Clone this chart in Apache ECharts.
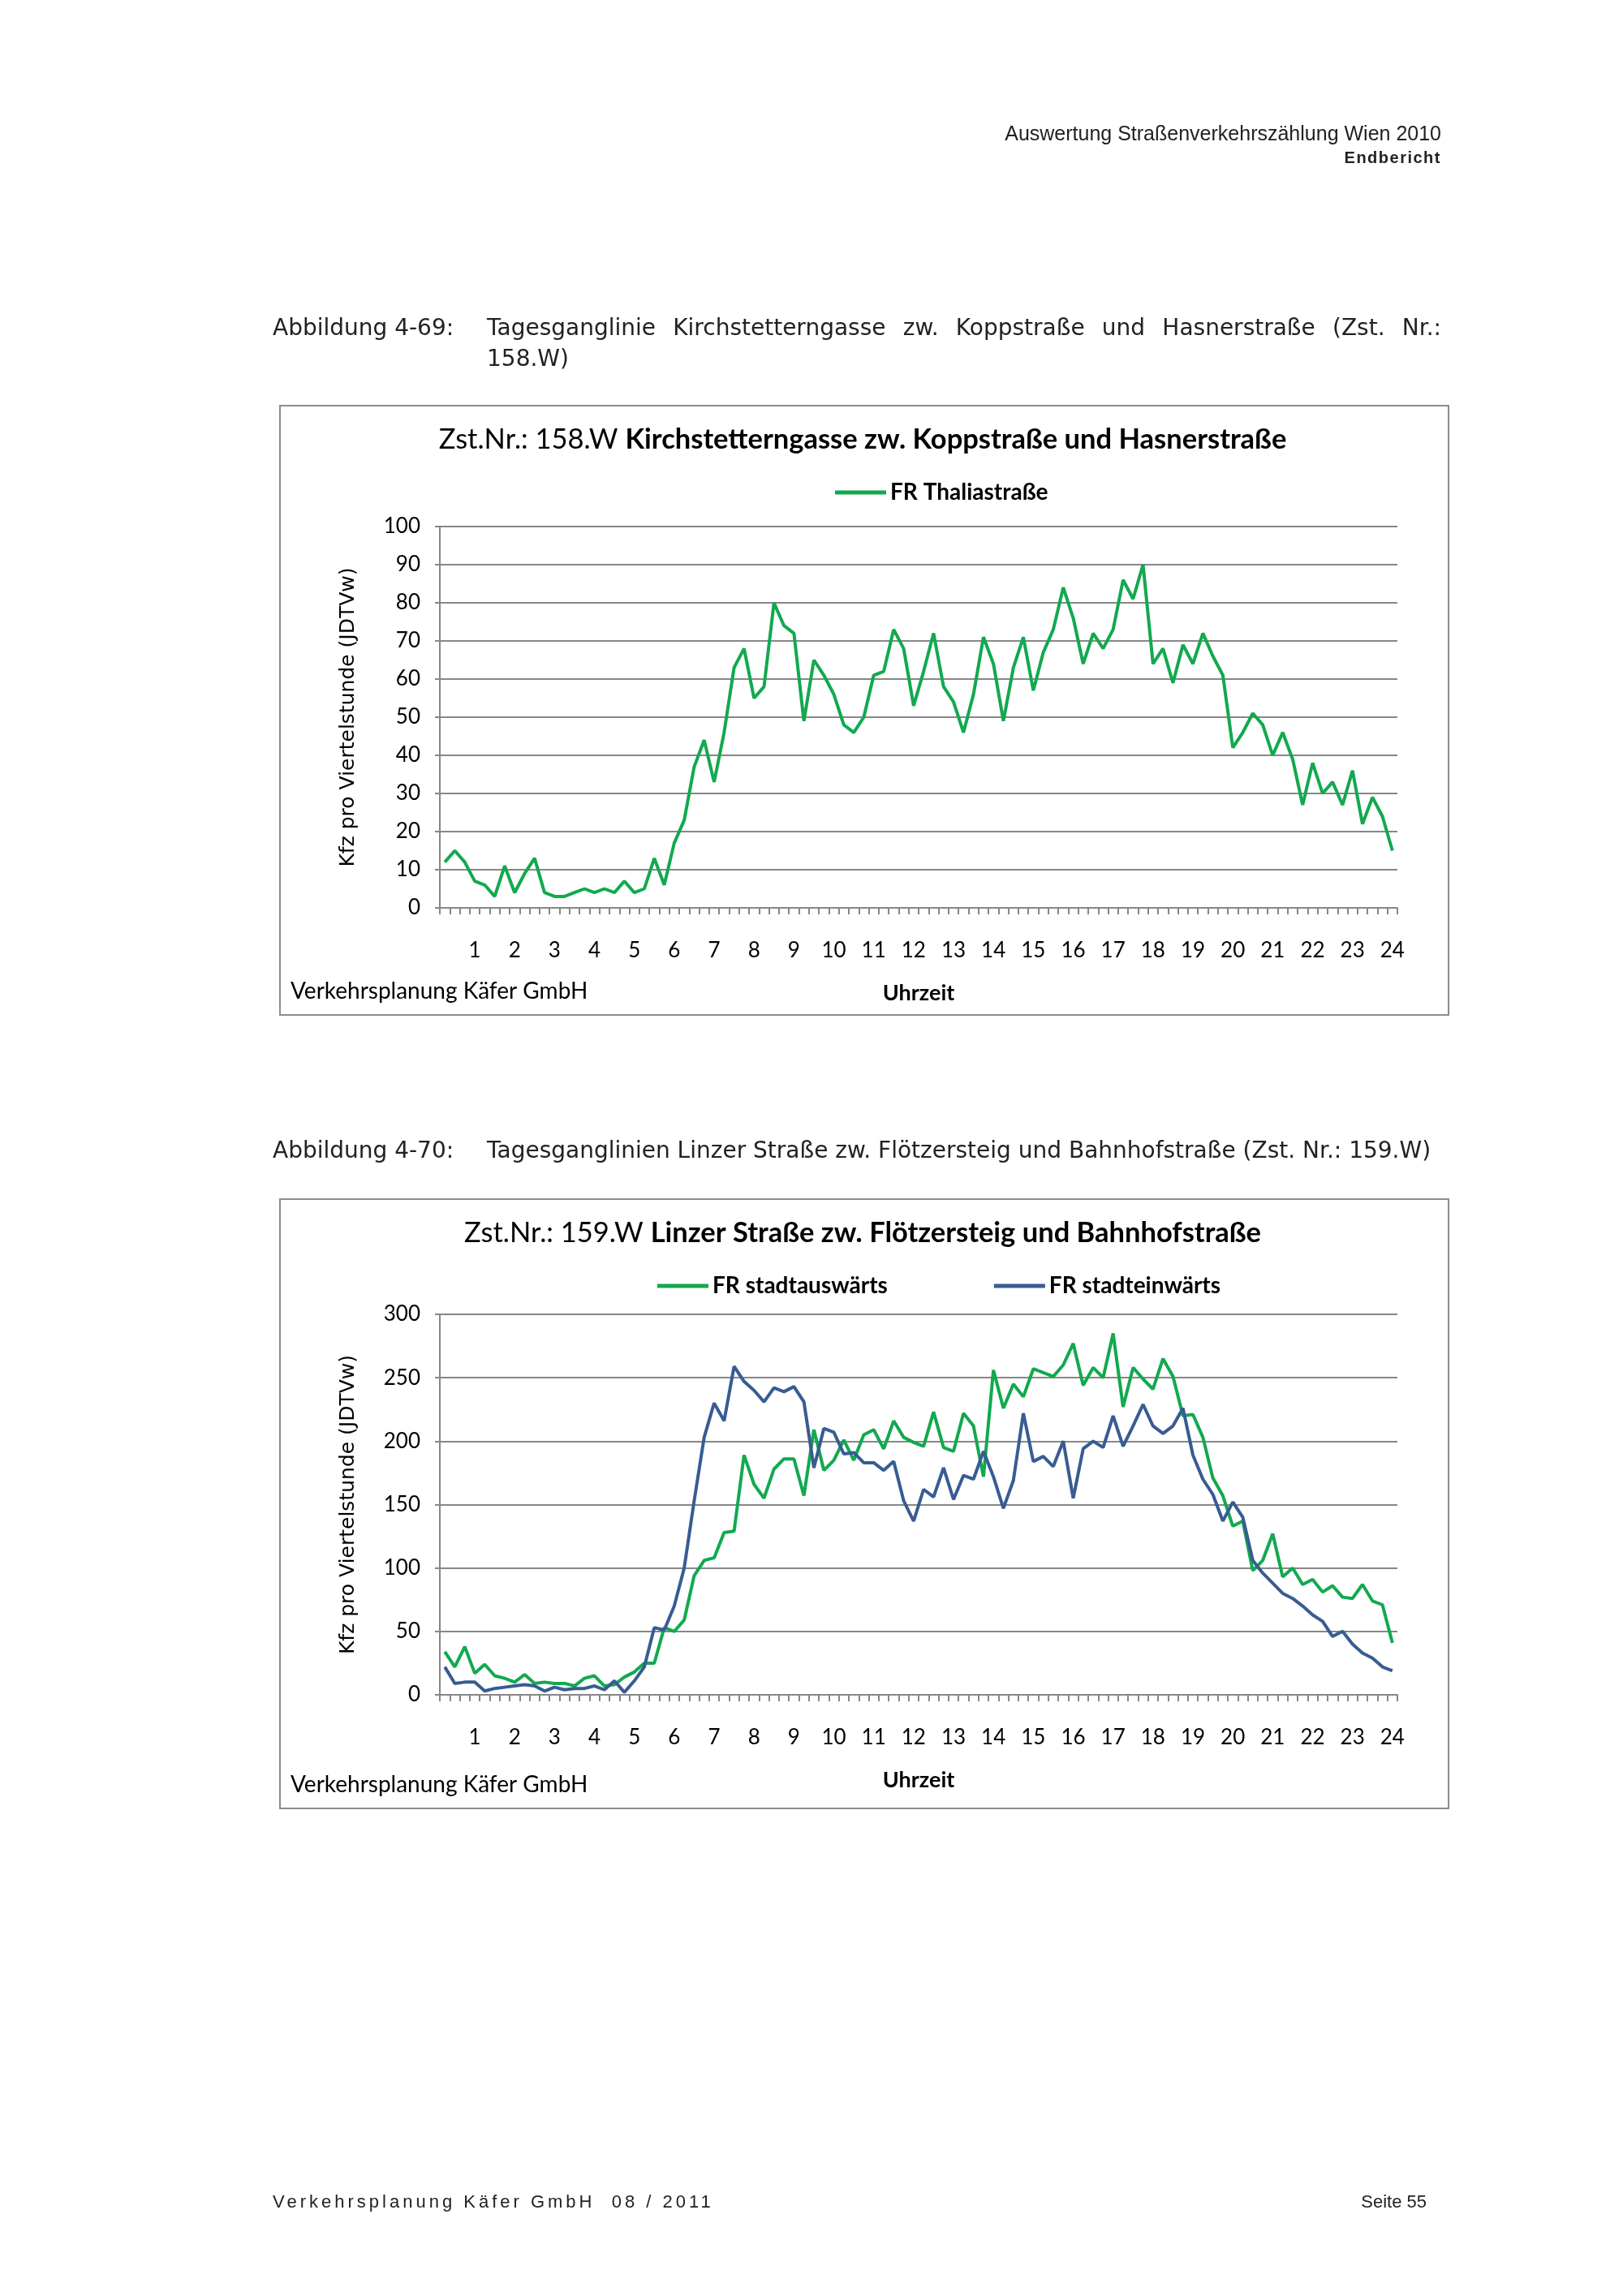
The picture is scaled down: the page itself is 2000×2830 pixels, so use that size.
<!DOCTYPE html>
<html><head><meta charset="utf-8">
<script src="https://cdn.jsdelivr.net/npm/echarts@6/dist/echarts.min.js"></script>
<style>
html,body{margin:0;padding:0;background:#fff;}
#page{position:relative;width:2000px;height:2830px;overflow:hidden;background:#fff;}
#chart{position:absolute;left:0;top:0;width:2000px;height:2830px;}
.t{position:absolute;font-family:"Liberation Sans",Arial,sans-serif;color:#222;white-space:nowrap;}
.c{font-family:"DejaVu Sans",sans-serif;font-size:28px;line-height:38px;}
.j{white-space:normal;text-align:justify;text-align-last:justify;}
</style></head><body>
<div id="page">
<div id="chart"></div>
<div class="t" style="right:224px;top:149px;font-size:25px;line-height:30px;">Auswertung Straßenverkehrszählung Wien 2010</div>
<div class="t" style="right:224px;top:181px;font-size:20px;line-height:26px;font-weight:bold;letter-spacing:1.5px;">Endbericht</div>
<div class="t c" style="left:336px;top:385px;">Abbildung 4-69:</div>
<div class="t c j" style="left:600px;top:385px;width:1176px;">Tagesganglinie Kirchstetterngasse zw. Koppstraße und Hasnerstraße (Zst. Nr.:</div>
<div class="t c" style="left:600px;top:423px;">158.W)</div>
<div class="t c" style="left:336px;top:1399px;">Abbildung 4-70:</div>
<div class="t c" style="left:600px;top:1399px;">Tagesganglinien Linzer Straße zw. Flötzersteig und Bahnhofstraße (Zst. Nr.: 159.W)</div>
<div class="t" style="left:336px;top:2700px;font-size:22px;line-height:28px;letter-spacing:4px;">Verkehrsplanung Käfer GmbH&nbsp;&nbsp;08 / 2011</div>
<div class="t" style="right:242px;top:2700px;font-size:22px;line-height:28px;">Seite 55</div>
</div>
<script>
// ---- data ----
const hourLabels = ['1','2','3','4','5','6','7','8','9','10','11','12','13','14','15','16','17','18','19','20','21','22','23','24'];
const quarterSuffix = [':15', ':30', ':45', ':00'];
const categories = [];
for (let h = 0; h < 24; h++) {
  for (let q = 0; q < 4; q++) {
    categories.push(q < 3 ? (h + quarterSuffix[q]) : (hourLabels[h] + quarterSuffix[q]));
  }
}
const thaliastrasse = [
  12,15,12,7,6,3,11,4,9,13,4,3,3,4,5,4,5,4,7,4,5,13,6,17,23,37,44,33,46,63,68,55,
  58,80,74,72,49,65,61,56,48,46,50,61,62,73,68,53,62,72,58,54,46,56,71,64,49,63,71,57,67,73,84,76,
  64,72,68,73,86,81,90,64,68,59,69,64,72,66,61,42,46,51,48,40,46,39,27,38,30,33,27,36,22,29,24,15
];
const stadtauswaerts = [
  34,22,38,17,24,15,13,10,16,9,10,9,9,7,13,15,7,8,14,18,25,25,53,50,59,94,106,108,128,129,189,166,
  155,178,186,186,157,209,177,185,201,185,205,209,194,216,203,199,196,223,195,192,222,212,172,256,226,245,235,257,254,251,260,277,
  244,258,250,285,227,258,249,241,265,251,220,221,203,171,157,133,137,98,106,127,93,100,87,91,81,86,77,76,87,74,71,41
];
const stadteinwaerts = [
  22,9,10,10,3,5,6,7,8,7,3,6,4,5,5,7,4,11,2,11,22,53,51,70,100,153,203,230,216,259,247,240,
  231,242,239,243,231,179,210,207,190,191,183,183,177,184,153,137,162,156,179,154,173,170,192,172,147,169,222,184,188,180,200,155,
  194,200,195,220,196,212,229,212,206,212,226,189,170,158,137,152,140,106,96,88,80,76,70,63,58,46,50,40,33,29,22,19
];
// ---- styles ----
const GREEN = '#12a94f', BLUE = '#385c92', GRAY = '#878787';
const LBL = 'Lato, "Noto Sans", sans-serif';

function xAx(gi) {
  return {
    type: 'category', gridIndex: gi, data: categories, boundaryGap: true,
    name: 'Uhrzeit', nameLocation: 'middle', nameGap: 92,
    nameTextStyle: {fontFamily: LBL, fontSize: 27, fontWeight: 'bold', color: '#000'},
    axisLine: {show: true, lineStyle: {color: GRAY, width: 2}},
    axisTick: {show: true, interval: 0, length: 8, lineStyle: {color: GRAY, width: 2}},
    axisLabel: {
      interval: (i, v) => v.endsWith(':00'),
      formatter: v => v.endsWith(':00') ? v.split(':')[0] : '',
      fontFamily: LBL, fontSize: 26, color: '#000', margin: 40
    },
    splitLine: {show: false}
  };
}
function yAx(gi, max, step) {
  return {
    type: 'value', gridIndex: gi, min: 0, max: max, interval: step,
    name: 'Kfz pro Viertelstunde (JDTVw)', nameLocation: 'middle', nameGap: 100, nameRotate: 90,
    nameTextStyle: {fontFamily: '"DejaVu Sans", sans-serif', fontSize: 25, color: '#000'},
    axisLine: {show: true, lineStyle: {color: GRAY, width: 2}},
    axisTick: {show: true, length: 6, lineStyle: {color: GRAY, width: 2}},
    axisLabel: {fontFamily: LBL, fontSize: 26, color: '#000', margin: 24},
    splitLine: {show: true, lineStyle: {color: GRAY, width: 2}}
  };
}
const legendText = {fontFamily: LBL, fontSize: 28, fontWeight: 'bold', color: '#000'};
const titleRich = {n: {fontFamily: LBL, fontSize: 34.5, fill: '#000'}, b: {fontFamily: LBL, fontSize: 34.5, fontWeight: 'bold', fill: '#000'}};

const option = {
  animation: false,
  backgroundColor: 'transparent',
  grid: [
    {left: 542, top: 649, width: 1180, height: 470},
    {left: 542, top: 1620, width: 1180, height: 469}
  ],
  xAxis: [xAx(0), xAx(1)],
  yAxis: [yAx(0, 100, 10), yAx(1, 300, 50)],
  legend: [
    {data: ['FR Thaliastraße'], left: 1024, top: 588, icon: 'rect', itemWidth: 63, itemHeight: 5, textStyle: legendText},
    {data: ['FR stadtauswärts', 'FR stadteinwärts'], left: 805, top: 1566, itemGap: 131, icon: 'rect', itemWidth: 63, itemHeight: 5, textStyle: legendText}
  ],
  series: [
    {name: 'FR Thaliastraße', type: 'line', xAxisIndex: 0, yAxisIndex: 0, data: thaliastrasse,
     showSymbol: false, symbol: 'none', color: GREEN, lineStyle: {color: GREEN, width: 4}},
    {name: 'FR stadtauswärts', type: 'line', xAxisIndex: 1, yAxisIndex: 1, data: stadtauswaerts,
     showSymbol: false, symbol: 'none', color: GREEN, lineStyle: {color: GREEN, width: 4}},
    {name: 'FR stadteinwärts', type: 'line', xAxisIndex: 1, yAxisIndex: 1, data: stadteinwaerts,
     showSymbol: false, symbol: 'none', color: BLUE, lineStyle: {color: BLUE, width: 4}}
  ],
  graphic: [
    {type: 'rect', shape: {x: 345, y: 500, width: 1440, height: 751}, style: {fill: 'none', stroke: '#8c8c8c', lineWidth: 2}, z: -1},
    {type: 'rect', shape: {x: 345, y: 1478, width: 1440, height: 751}, style: {fill: 'none', stroke: '#8c8c8c', lineWidth: 2}, z: -1},
    {type: 'text', style: {x: 1063, y: 542, align: 'center', verticalAlign: 'middle',
      text: '{n|Zst.Nr.: 158.W }{b|Kirchstetterngasse zw. Koppstraße und Hasnerstraße}', rich: titleRich}},
    {type: 'text', style: {x: 1063, y: 1520, align: 'center', verticalAlign: 'middle',
      text: '{n|Zst.Nr.: 159.W }{b|Linzer Straße zw. Flötzersteig und Bahnhofstraße}', rich: titleRich}},
    {type: 'text', style: {x: 358, y: 1222, verticalAlign: 'middle', text: 'Verkehrsplanung Käfer GmbH', fontFamily: LBL, fontSize: 28, fill: '#000'}},
    {type: 'text', style: {x: 358, y: 2200, verticalAlign: 'middle', text: 'Verkehrsplanung Käfer GmbH', fontFamily: LBL, fontSize: 28, fill: '#000'}}
  ]
};
const chart = echarts.init(document.getElementById('chart'), null, {width: 2000, height: 2830});
chart.setOption(option);
</script>
</body></html>
